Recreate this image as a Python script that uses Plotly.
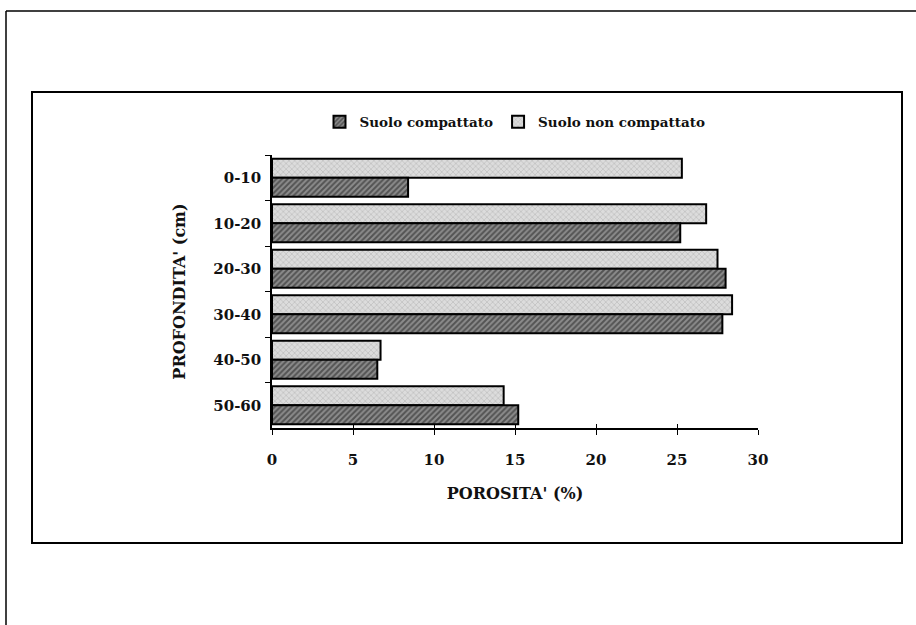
import plotly.graph_objects as go

# Depth classes (cm) and soil porosity (%) for each treatment
depths = ["0-10", "10-20", "20-30", "30-40", "40-50", "50-60"]
porosity_compacted = [8.4, 25.2, 28.0, 27.8, 6.5, 15.2]
porosity_uncompacted = [25.3, 26.8, 27.5, 28.4, 6.7, 14.3]
x_ticks = [0, 5, 10, 15, 20, 25, 30]

FONT = "DejaVu Serif"
W, H = 916, 625
# plot area in pixels
L, R, T, B = 272, 758, 155, 428


def px_x(x):
    return (x - L) / (R - L)


def px_y(y):
    return (B - y) / (B - T)


def bold(size):
    return dict(family=FONT, size=size, color="#111", weight="bold")


fig = go.Figure()

fig.add_trace(go.Bar(
    y=depths, x=porosity_uncompacted, orientation="h",
    name="Suolo non compattato", legendrank=2,
    marker=dict(
        color="#d6d6d6",
        line=dict(color="black", width=2),
        pattern=dict(shape="x", fgcolor="#8a8a8a", bgcolor="#dcdcdc",
                     size=4, solidity=0.25),
    ),
))
fig.add_trace(go.Bar(
    y=depths, x=porosity_compacted, orientation="h",
    name="Suolo compattato", legendrank=1,
    marker=dict(
        color="#4a4a4a",
        line=dict(color="black", width=2),
        pattern=dict(shape="/", fgcolor="#1a1a1a", bgcolor="#8c8c8c",
                     size=4, solidity=0.5),
    ),
))
# invisible helper so the crossing tick marks on the value axis render
fig.add_trace(go.Scatter(x=[0, 30], y=[depths[0], depths[0]], xaxis="x2",
                         mode="markers", marker=dict(opacity=0),
                         showlegend=False, hoverinfo="skip"))

fig.update_layout(
    width=W, height=H,
    margin=dict(l=L, r=W - R, t=T, b=H - B, autoexpand=False),
    paper_bgcolor="white", plot_bgcolor="white",
    barmode="group", bargap=0.16, bargroupgap=0.0,
    showlegend=True,
    legend=dict(orientation="h", x=0.5, xanchor="center",
                y=px_y(122), yanchor="middle",
                font=bold(13.5), itemwidth=30, traceorder="normal",
                bgcolor="rgba(0,0,0,0)"),
    xaxis=dict(range=[0, 30], tickvals=x_ticks, ticks="outside",
               ticklen=5, tickwidth=1.2, tickcolor="black",
               showline=True, linecolor="black", linewidth=1.5,
               showgrid=False, zeroline=False, tickfont=bold(15),
               ticklabelstandoff=12,
               title=dict(text="POROSITA' (%)", standoff=20,
                          font=bold(16))),
    xaxis2=dict(range=[0, 30], overlaying="x", anchor="y", side="bottom",
                tickvals=x_ticks, ticks="inside", ticklen=4,
                tickwidth=1.2, tickcolor="black", showticklabels=False,
                showgrid=False, zeroline=False, showline=False),
    yaxis=dict(categoryorder="array", categoryarray=depths,
               autorange="reversed", tickson="boundaries", ticks="outside",
               ticklen=5, tickwidth=1.2, tickcolor="black",
               showline=True, linecolor="black", linewidth=1.5,
               showgrid=False, zeroline=False, tickfont=bold(15),
               ticklabelstandoff=6,
               title=dict(text="PROFONDITA' (cm)", standoff=24,
                          font=bold(16))),
)

# inner chart frame and outer page frame
shapes = [
    dict(type="rect", xref="paper", yref="paper",
         x0=px_x(32), x1=px_x(902), y0=px_y(543), y1=px_y(92),
         line=dict(color="black", width=2)),
    dict(type="line", xref="paper", yref="paper",
         x0=px_x(6), x1=px_x(W), y0=px_y(11), y1=px_y(11),
         line=dict(color="black", width=1.5)),
    dict(type="line", xref="paper", yref="paper",
         x0=px_x(6), x1=px_x(6), y0=px_y(11), y1=px_y(H),
         line=dict(color="black", width=1.5)),
]
fig.update_layout(shapes=shapes)

fig.write_html("out.html")
